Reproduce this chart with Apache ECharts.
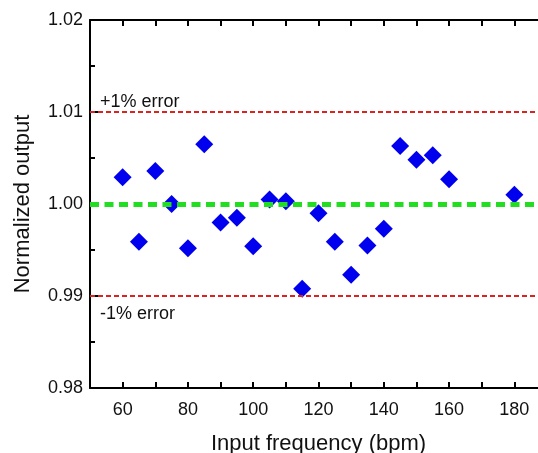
<!DOCTYPE html>
<html><head><meta charset="utf-8">
<script src="https://cdn.jsdelivr.net/npm/echarts@6/dist/echarts.min.js"></script>
<style>html,body{margin:0;padding:0;background:#fff}#c{width:538px;height:453px;background:#fff}</style>
</head><body><div id="c"></div>
<script>
const frequencies = [60,65,70,75,80,85,90,95,100,105,110,115,120,125,130,135,140,145,150,155,160,180];
const normalizedOutput = [1.0029,0.9959,1.0036,1.0000,0.9952,1.0065,0.9980,0.9985,0.9954,1.0005,1.0003,0.9908,0.9990,0.9959,0.9923,0.9955,0.9973,1.0063,1.0048,1.0053,1.0027,1.0010];
const xLabelStep = 20;          // x tick labels: 60, 80, ..., 180
const errorLines = [1.01, 0.99];
const errorLabels = ['+1% error', '-1% error'];
const referenceLine = 1.00;

const FONT = "'Liberation Sans', Arial, sans-serif";
const chart = echarts.init(document.getElementById('c'));

const points = frequencies.map((f, i) => [f, normalizedOutput[i]]);

const markData = errorLines.map((v, i) => ({
  yAxis: v,
  lineStyle: {color: '#dd2222', width: 2, type: [5, 3]},
  label: {
    show: true, formatter: errorLabels[i],
    position: i === 0 ? 'insideStartTop' : 'insideStartBottom',
    distance: i === 0 ? [10, 1] : [10, 9], color: '#111', fontSize: 18, fontFamily: FONT
  }
}));
markData.push({
  yAxis: referenceLine,
  lineStyle: {color: '#22dd22', width: 5, type: [9, 5.5]},
  label: {show: false}
});

chart.setOption({
  animation: false,
  grid: {left: 90, top: 20, right: -9, bottom: 65, outerBoundsMode: 'none'},
  xAxis: [
    {type: 'value', min: 50, max: 190, interval: 10, position: 'bottom',
     name: 'Input frequency (bpm)', nameLocation: 'middle', nameGap: 45,
     nameTextStyle: {fontSize: 22, color: '#111', fontFamily: FONT},
     axisLine: {show: true, onZero: false, lineStyle: {color: '#000', width: 2}},
     axisTick: {show: true, inside: true, length: 6, lineStyle: {color: '#000', width: 2}},
     axisLabel: {show: true, margin: 13, fontSize: 18, color: '#111', fontFamily: FONT,
       formatter: v => (v % xLabelStep === 0 ? String(v) : '')},
     splitLine: {show: false}},
    {type: 'value', min: 50, max: 190, interval: 10, position: 'top',
     axisLine: {show: true, onZero: false, lineStyle: {color: '#000', width: 2}},
     axisTick: {show: true, inside: true, length: 6, lineStyle: {color: '#000', width: 2}},
     axisLabel: {show: true, formatter: () => ''},
     splitLine: {show: false}}
  ],
  yAxis: {
    type: 'value', min: 0.98, max: 1.02, interval: 0.01,
    name: 'Normalized output', nameLocation: 'middle', nameGap: 56,
    nameTextStyle: {fontSize: 22, color: '#111', fontFamily: FONT},
    axisLine: {show: true, lineStyle: {color: '#000', width: 2}},
    axisTick: {show: true, inside: true, length: 8, lineStyle: {color: '#000', width: 2}},
    minorTick: {show: true, splitNumber: 2, length: 5, lineStyle: {color: '#000', width: 2}},
    splitLine: {show: false},
    axisLabel: {margin: 7, fontSize: 18, color: '#111', fontFamily: FONT, formatter: v => v.toFixed(2)}
  },
  series: [{
    type: 'scatter',
    data: points,
    symbol: 'diamond', symbolSize: [18, 18],
    itemStyle: {color: '#0000ee', opacity: 1},
    markLine: {
      silent: true, symbol: ['none', 'none'], animation: false,
      data: markData
    }
  }]
});
</script></body></html>
